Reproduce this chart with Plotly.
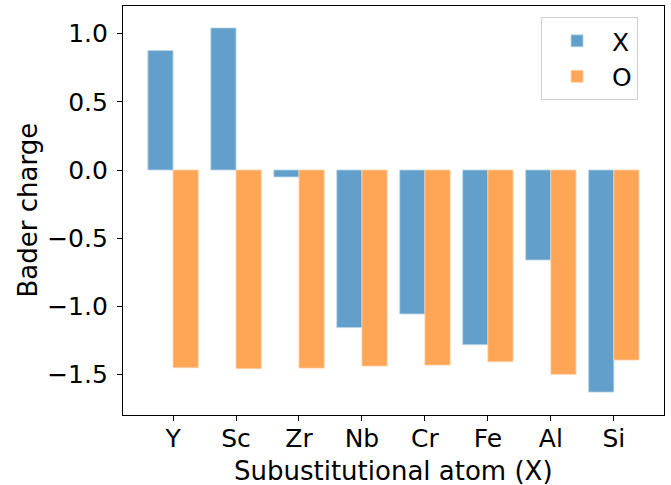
import plotly.graph_objects as go

categories = ["Y", "Sc", "Zr", "Nb", "Cr", "Fe", "Al", "Si"]
x_charge = [0.876, 1.042, -0.051, -1.156, -1.056, -1.281, -0.660, -1.629]
o_charge = [-1.450, -1.457, -1.453, -1.438, -1.431, -1.406, -1.499, -1.394]
y_ticks = [1.0, 0.5, 0.0, -0.5, -1.0, -1.5]
y_tick_text = ["1.0", "0.5", "0.0", "\u22120.5", "\u22121.0", "\u22121.5"]

idx = list(range(len(categories)))
font = "DejaVu Sans, sans-serif"

fig = go.Figure()
fig.add_trace(go.Bar(x=idx, y=x_charge, name="X", offset=-0.4, width=0.4,
                     marker=dict(color="#62a0cb", line=dict(width=0.8, color="#b9d5ea"))))
fig.add_trace(go.Bar(x=idx, y=o_charge, name="O", offset=0.0, width=0.4,
                     marker=dict(color="#ffa556", line=dict(width=0.8, color="#ffd2aa"))))

axis_common = dict(showline=True, linecolor="black", linewidth=1.2, mirror=True,
                   ticks="outside", ticklen=5, tickwidth=1.1, tickcolor="black",
                   showgrid=False, zeroline=False, automargin=False,
                   tickfont=dict(family=font, size=25, color="black"))

fig.update_layout(
    width=671, height=485,
    margin=dict(l=123, r=7, t=6, b=70),
    paper_bgcolor="white", plot_bgcolor="white",
    barmode="overlay",
    showlegend=True,
    legend=dict(x=0.952, y=0.973, xanchor="right", yanchor="top",
                bgcolor="white", bordercolor="#d0d0d0", borderwidth=1,
                font=dict(family=font, size=25, color="black"),
                itemwidth=60, tracegroupgap=2),
    xaxis=dict(range=[-0.795, 7.797], tickvals=idx, ticktext=categories,
               ticklabelstandoff=-4, **axis_common),
    yaxis=dict(range=[-1.797, 1.203], tickvals=y_ticks, ticktext=y_tick_text,
               ticklabelstandoff=4, **axis_common),
    annotations=[
        dict(text="Subustitutional atom (X)", xref="paper", yref="paper",
             x=0.5, y=0, yshift=-56, xanchor="center", yanchor="middle",
             showarrow=False, font=dict(family=font, size=26, color="black")),
        dict(text="Bader charge", xref="paper", yref="paper",
             x=0, xshift=-96, y=0.5, xanchor="center", yanchor="middle",
             textangle=-90, showarrow=False,
             font=dict(family=font, size=26, color="black")),
    ],
)

fig.write_html("out.html", config={"displayModeBar": False},
               post_script="document.body.style.margin='0';document.body.style.padding='0';")
